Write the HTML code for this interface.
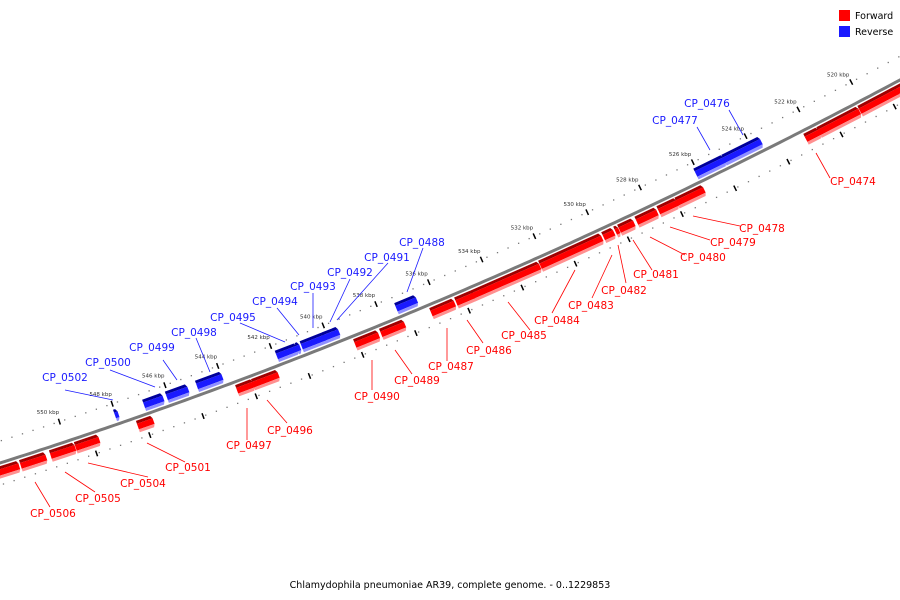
<!DOCTYPE html>
<html><head><meta charset="utf-8"><style>
html,body{margin:0;padding:0;background:#fff;}
svg{display:block;font-family:"DejaVu Sans","Liberation Sans",sans-serif;}
</style></head><body>
<svg id="map" width="900" height="600" viewBox="0 0 900 600">
<g id="rings"></g>
<path id="backbone" fill="none" stroke="#7a7a7a" stroke-width="3"></path>
<g id="genes"></g>
<g id="labels"></g>
<g>
<rect x="839" y="10" width="11" height="11" fill="#ff0000"/>
<text x="855" y="19" font-size="9.5" fill="#000">Forward</text>
<rect x="839" y="26" width="11" height="11" fill="#1a1aff"/>
<text x="855" y="35" font-size="9.5" fill="#000">Reverse</text>
</g>
<text x="450" y="588" font-size="9.5" text-anchor="middle" fill="#000">Chlamydophila pneumoniae AR39, complete genome. - 0..1229853</text>
</svg>
<script>
const fwdNames=["","","","CP_0474","CP_0478","CP_0479","CP_0480","CP_0481","CP_0482","CP_0483","CP_0484","CP_0485","CP_0486","CP_0487","CP_0489","CP_0490","CP_0496","CP_0497","CP_0501","CP_0504","CP_0505","CP_0506",""];
const fwdStart=[518.34,518.72,520.15,521.66,526.0,527.02,527.77,528.64,529.21,529.4,529.85,532.19,534.68,535.4,537.28,538.26,542.04,542.98,546.75,548.79,549.7,550.79,551.81];
const fwdEnd=[518.83,520.19,521.74,522.23,527.09,527.77,528.6,529.25,529.4,529.85,532.23,534.79,535.4,536.34,538.23,539.21,543.06,543.66,547.4,549.74,550.68,551.81,552.9];
const revNames=["CP_0476","CP_0477","CP_0488","CP_0491","CP_0492","CP_0493","CP_0494","CP_0495","CP_0498","CP_0499","CP_0500","CP_0502"];
const revStart=[523.55,524.94,536.57,539.51,539.62,540.04,540.98,541.09,543.92,545.21,546.15,547.85];
const revEnd=[525.02,526.08,537.4,539.74,540.15,540.98,541.17,541.92,544.94,546.08,546.94,548.04];
const tickKbp=[520,522,524,526,528,530,532,534,536,538,540,542,544,546,548,550];
const tickLabels=["520 kbp","522 kbp","524 kbp","526 kbp","528 kbp","530 kbp","532 kbp","534 kbp","536 kbp","538 kbp","540 kbp","542 kbp","544 kbp","546 kbp","548 kbp","550 kbp"];
// label layout (text pos, leader from gene to label)
const fwdLabelPos=[null,null,null,[853,185,816,153,830,178],[762,232,693,216,740,226],[733,246,670,227,710,240],[703,261,650,237,685,255],[656,278,633,240,652,270],[624,294,618,245,626,283],[591,309,612,255,592,298],[557,324,575,270,552,313],[524,339,508,302,530,330],[489,354,467,320,483,343],[451,370,447,328,447,361],[417,384,395,350,412,374],[377,400,372,360,372,390],[290,434,267,400,287,423],[249,449,247,408,247,440],[188,471,147,443,185,462],[143,487,88,463,148,477],[98,502,65,472,95,492],[53,517,35,482,50,507],null];
const revLabelPos=[[707,107,743,135,729,110],[675,124,710,150,697,127],[422,246,407,292,423,248],[387,261,337,320,388,263],[350,276,330,322,350,279],[313,290,313,328,313,293],[275,305,299,335,277,308],[233,321,285,342,240,323],[194,336,210,372,196,338],[152,351,177,380,163,360],[108,366,155,387,110,370],[65,381,113,400,65,390]];
const NS="http://www.w3.org/2000/svg";
function xOf(k){return 755-(k-524)*26.5;}
function yOf(x){return 463-0.3167*x-1.21e-4*x*x;}
function pt(x,d){const s=-(0.3167+2*1.21e-4*x);const L=Math.sqrt(1+s*s);return [x+(-s)*d/L, yOf(x)+d/L];}
function mk(tag,attrs,parent){const e=document.createElementNS(NS,tag);for(const k in attrs)e.setAttribute(k,attrs[k]);parent.appendChild(e);return e;}
// backbone
let dpath="";for(let x=-10;x<=910;x+=5){dpath+=(x===-10?"M":"L")+x+","+yOf(x).toFixed(1)+" ";}
document.getElementById("backbone").setAttribute("d",dpath);
const rings=document.getElementById("rings");
for(let k=517;k<=554;k+=0.4){const x=xOf(k);[-21,21].forEach(d=>{const p=pt(x,d);
const c=mk("rect",{x:p[0]-0.6,y:p[1]-0.6,width:1.3,height:1.3,fill:"#777"},rings);

});}
tickKbp.forEach((k,i)=>{const x=xOf(k);const a=pt(x,-18),b=pt(x,-24);
const t=mk("line",{x1:a[0],y1:a[1],x2:b[0],y2:b[1],stroke:"#000","stroke-width":1.5},rings);


const c=pt(x-8,-32);
const lb=mk("text",{x:c[0],y:c[1],"font-size":5.5,fill:"#333","text-anchor":"middle"},rings);


lb.textContent=tickLabels[i];
const x2=xOf(k-0.9);const a2=pt(x2,18),b2=pt(x2,24);
const t2=mk("line",{x1:a2[0],y1:a2[1],x2:b2[0],y2:b2[1],stroke:"#000","stroke-width":1.5},rings);

});
const genes=document.getElementById("genes");
function drawGene(k1,k2,fwd,name){
 const xa=Math.min(xOf(k1),xOf(k2)),xb=Math.max(xOf(k1),xOf(k2));
 const g=mk("g",{},genes);
 
 
 const bands=fwd?[[3,6,"#a00000"],[6,12,"#ff0000"],[12,15,"#ff9090"]]:[[-15,-12,"#00009a"],[-12,-6,"#1a1aff"],[-6,-3,"#8f8fff"]];
 const mid=fwd?9:-9;
 bands.forEach(bd=>{const pts=[];
  const e1=xb-Math.min(3,xb-xa)*Math.abs(bd[0]-mid)/6, e2=xb-Math.min(3,xb-xa)*Math.abs(bd[1]-mid)/6;
  pts.push(pt(xa,bd[0]),pt(e1,bd[0]),pt(e2,bd[1]),pt(xa,bd[1]));
  mk("polygon",{points:pts.map(p=>p[0].toFixed(1)+","+p[1].toFixed(1)).join(" "),fill:bd[2]},g);});
}
const labels=document.getElementById("labels");
function drawLabel(name,lp,col){if(!lp||!name)return;
 const l=mk("line",{x1:lp[2],y1:lp[3],x2:lp[4],y2:lp[5],stroke:col,"stroke-width":0.8},labels);
 
 
 const t=mk("text",{x:lp[0],y:lp[1],"font-size":10.5,fill:col,"text-anchor":"middle"},labels);
 
 
 t.textContent=name;}
fwdStart.forEach((s,i)=>{drawGene(s,fwdEnd[i],true,fwdNames[i]);drawLabel(fwdNames[i],fwdLabelPos[i],"#ff0000");});
revStart.forEach((s,i)=>{drawGene(s,revEnd[i],false,revNames[i]);drawLabel(revNames[i],revLabelPos[i],"#1a1aff");});
</script>
</body></html>
